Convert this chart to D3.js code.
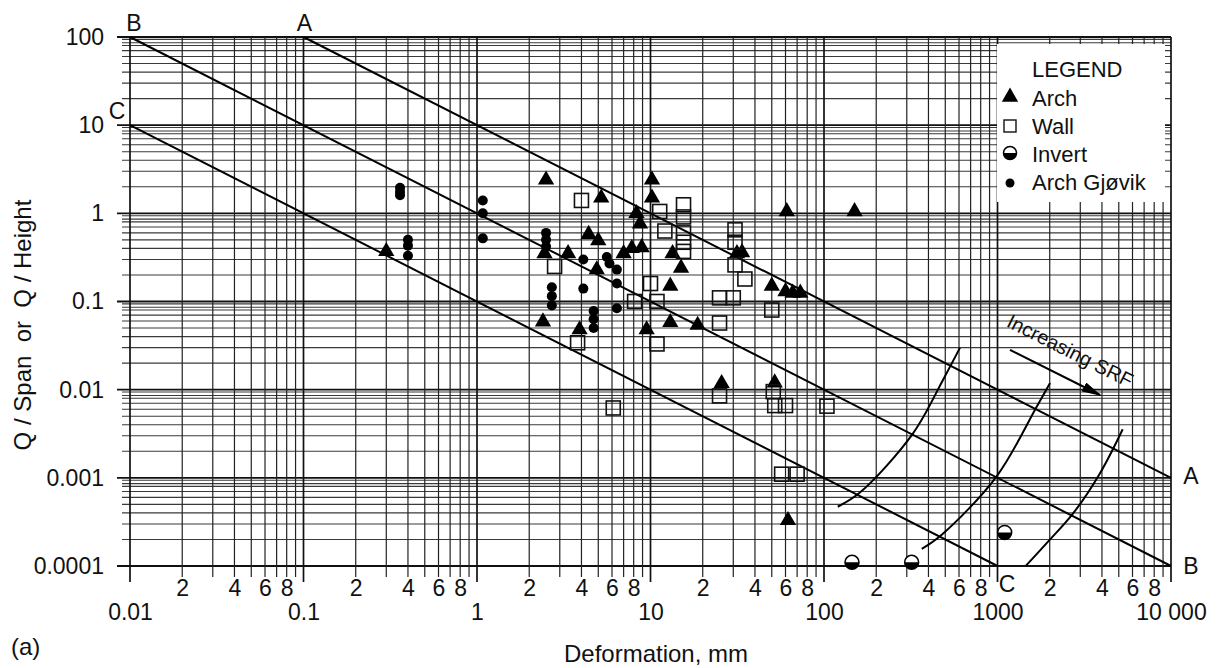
<!DOCTYPE html>
<html><head><meta charset="utf-8">
<script src="https://cdn.jsdelivr.net/npm/d3@7"></script>
<style>
body{margin:0;background:#fff}
svg{display:block;font-family:"Liberation Sans",Arial,Helvetica,sans-serif}
</style></head><body>
<svg id="c" width="1220" height="668"></svg>
<script>
// ---------- data ----------
const xDecades = [0.01, 0.1, 1, 10, 100, 1000, 10000];
const xDecadeLabels = ["0.01", "0.1", "1", "10", "100", "1000", "10 000"];
const yDecades = [0.0001, 0.001, 0.01, 0.1, 1, 10, 100];
const yDecadeLabels = ["0.0001", "0.001", "0.01", "0.1", "1", "10", "100"];
const xMinorLabelDigits = [2, 4, 6, 8];
const gridStepsX = [2, 3, 4, 5, 6, 7, 8, 9];
const gridStepsY = [2, 3, 4, 5, 6, 7, 8, 8.6, 9.4];

const archPoints = [
  [0.3,0.37],[2.5,2.4],[2.45,0.35],[3.35,0.35],[2.4,0.059],[3.9,0.048],[5.2,1.5],
  [10.2,2.4],[10.2,1.5],[8.3,1.0],[8.7,0.76],[4.4,0.58],[5.0,0.49],[4.9,0.23],
  [7.0,0.35],[7.8,0.4],[8.9,0.41],[13.4,0.35],[15,0.24],[13,0.15],[9.5,0.048],
  [13,0.058],[18.7,0.054],[31.5,0.35],[33.7,0.36],[61,1.05],[150,1.05],[50,0.15],
  [60,0.13],[66,0.125],[73,0.125],[25.7,0.0118],[52,0.012],[62,0.00033]
];
const wallPoints = [
  [4.0,1.4],[2.8,0.25],[3.8,0.034],[6.1,0.0062],[15.5,1.25],[15.5,0.91],[15.5,0.6],
  [15.5,0.47],[15.5,0.37],[11.3,1.05],[12.1,0.63],[30.7,0.65],[30.7,0.47],[30.7,0.26],
  [35,0.18],[10,0.16],[8.1,0.1],[10.9,0.1],[25,0.11],[30,0.11],[25,0.057],[10.9,0.033],
  [50,0.08],[25,0.0085],[51,0.0095],[52,0.0066],[60,0.0066],[104,0.0065],[57,0.0011],[70,0.0011]
];
const invertPoints = [[145,0.00011],[320,0.00011],[1100,0.00024]];
const gjovikPoints = [
  [0.36,1.95],[0.36,1.75],[0.36,1.6],[0.4,0.5],[0.4,0.43],[0.4,0.33],
  [1.08,1.4],[1.08,1.0],[1.08,0.52],[2.5,0.6],[2.5,0.5],[2.5,0.42],
  [2.7,0.145],[2.7,0.115],[2.7,0.09],[4.1,0.14],[4.7,0.078],[4.7,0.063],[4.7,0.05],
  [4.1,0.3],[5.6,0.32],[5.8,0.27],[6.4,0.23],[6.4,0.16],[6.4,0.084]
];

const lineA = [[0.1,100],[10000,0.001]];
const lineB = [[0.01,100],[10000,0.0001]];
const lineC = [[0.01,10],[1000,0.0001]];
const srfArc1 = [[120,4.7e-4],[161,6.8e-4],[326,3.2e-3],[485,0.0129],[608,0.030]];
const srfArc2 = [[366,1.56e-4],[477,2.26e-4],[989,1.04e-3],[1682,6.4e-3],[2009,0.0119]];
const srfArc3 = [[1459,1.01e-4],[1921,1.82e-4],[2735,3.98e-4],[3899,1.13e-3],[5268,3.56e-3]];
const srfArrow = [[1180,0.0283],[3900,0.0087]];

const legendItems = ["Arch", "Wall", "Invert", "Arch Gjøvik"];

// ---------- layout ----------
const svg = d3.select("#c");
const L = 130, R = 1171, T = 37, B = 566;
const x = d3.scaleLog().domain([0.01, 10000]).range([L, R]);
const y = d3.scaleLog().domain([0.0001, 100]).range([B, T]);
const FS = 23;

// grid
const grid = svg.append("g");
const xMinor = [], yMinor = [];
xDecades.slice(0, -1).forEach(d => gridStepsX.forEach(k => xMinor.push(d * k)));
yDecades.slice(0, -1).forEach(d => gridStepsY.forEach(k => yMinor.push(d * k)));

grid.selectAll(".hm").data(yMinor).join("line")
  .attr("x1", L - 8).attr("x2", R).attr("y1", d => y(d)).attr("y2", d => y(d))
  .attr("stroke", "#3a3a3a").attr("stroke-width", 1.1);
grid.selectAll(".hd").data(yDecades).join("line")
  .attr("x1", L - 13).attr("x2", R).attr("y1", d => y(d)).attr("y2", d => y(d))
  .attr("stroke", "#111").attr("stroke-width", 1.8);
grid.selectAll(".vm").data(xMinor).join("line")
  .attr("y1", T).attr("y2", B + 11).attr("x1", d => x(d)).attr("x2", d => x(d))
  .attr("stroke", "#222").attr("stroke-width", 1.2);
grid.selectAll(".vd").data(xDecades).join("line")
  .attr("y1", T).attr("y2", B + 16).attr("x1", d => x(d)).attr("x2", d => x(d))
  .attr("stroke", "#111").attr("stroke-width", 1.7);

// axes labels
const yAxis = d3.axisLeft(y).tickValues(yDecades)
  .tickFormat((d, i) => yDecadeLabels[i]).tickSize(0).tickPadding(26);
const gy = svg.append("g").attr("transform", `translate(${L},0)`).call(yAxis);
gy.select(".domain").remove();
gy.selectAll("text").attr("font-size", FS).attr("font-family", "Liberation Sans, Arial, sans-serif").attr("fill", "#111");

const xAxisDec = d3.axisBottom(x).tickValues(xDecades)
  .tickFormat((d, i) => xDecadeLabels[i]).tickSize(0).tickPadding(38);
const gxd = svg.append("g").attr("transform", `translate(0,${B})`).call(xAxisDec);
gxd.select(".domain").remove();
gxd.selectAll("text").attr("font-size", FS).attr("font-family", "Liberation Sans, Arial, sans-serif").attr("fill", "#111");

const xMinorLab = [];
xDecades.slice(0, -1).forEach(d => xMinorLabelDigits.forEach(k => xMinorLab.push(d * k)));
const xAxisMin = d3.axisBottom(x).tickValues(xMinorLab)
  .tickFormat(d => String(Math.round(d / Math.pow(10, Math.floor(Math.log10(d) + 1e-9)))))
  .tickSize(0).tickPadding(14);
const gxm = svg.append("g").attr("transform", `translate(0,${B})`).call(xAxisMin);
gxm.select(".domain").remove();
gxm.selectAll("text").attr("font-size", FS).attr("font-family", "Liberation Sans, Arial, sans-serif").attr("fill", "#111");

// axis titles
svg.append("text").attr("x", 656).attr("y", 662).attr("text-anchor", "middle")
  .attr("font-size", 24).attr("fill", "#111").text("Deformation, mm");
svg.append("text").attr("transform", "translate(31,325) rotate(-90)").attr("text-anchor", "middle")
  .attr("font-size", 24).attr("fill", "#111").style("white-space", "pre").text("Q / Span  or  Q / Height");
svg.append("text").attr("x", 11).attr("y", 655).attr("font-size", 24).attr("fill", "#111").text("(a)");

// diagonal lines
const ln = d3.line().x(d => x(d[0])).y(d => y(d[1]));
[lineA, lineB, lineC].forEach(l => svg.append("path").attr("d", ln(l))
  .attr("fill", "none").attr("stroke", "#000").attr("stroke-width", 2));

// SRF arcs
const curve = d3.line().x(d => x(d[0])).y(d => y(d[1])).curve(d3.curveCatmullRom);
[srfArc1, srfArc2, srfArc3].forEach(a => svg.append("path").attr("d", curve(a))
  .attr("fill", "none").attr("stroke", "#000").attr("stroke-width", 2));

// arrow
svg.append("defs").append("marker").attr("id", "ah").attr("viewBox", "0 0 10 10")
  .attr("refX", 9).attr("refY", 5).attr("markerWidth", 20).attr("markerHeight", 10)
  .attr("markerUnits", "userSpaceOnUse").attr("orient", "auto").attr("preserveAspectRatio", "none")
  .append("path").attr("d", "M0,0 L10,5 L0,10 Z").attr("fill", "#000");
svg.append("path").attr("d", ln(srfArrow)).attr("stroke", "#000").attr("stroke-width", 2)
  .attr("fill", "none").attr("marker-end", "url(#ah)");
const ax0 = x(srfArrow[0][0]), ay0 = y(srfArrow[0][1]), ax1 = x(srfArrow[1][0]), ay1 = y(srfArrow[1][1]);
const ang = Math.atan2(ay1 - ay0, ax1 - ax0) * 180 / Math.PI;
svg.append("text").attr("transform", `translate(1067,357) rotate(${ang})`).attr("text-anchor", "middle")
  .attr("font-size", 20).attr("fill", "#111").text("Increasing SRF");

// line letters
const letters = [
  ["B", x(0.01) + 4, 31], ["A", x(0.1) + 1, 31], ["C", 117, 119],
  ["A", 1191, 484], ["B", 1191, 574], ["C", 1007, 592]
];
svg.selectAll(".lt").data(letters).join("text").attr("x", d => d[1]).attr("y", d => d[2])
  .attr("text-anchor", "middle").attr("font-size", FS).attr("fill", "#111").text(d => d[0]);

// markers
const tri = d3.symbol().type(d3.symbolTriangle).size(115);
svg.append("g").selectAll("path").data(archPoints).join("path")
  .attr("transform", d => `translate(${x(d[0])},${y(d[1])})`).attr("d", tri()).attr("fill", "#000");
svg.append("g").selectAll("rect").data(wallPoints).join("rect")
  .attr("x", d => x(d[0]) - 7).attr("y", d => y(d[1]) - 7).attr("width", 14).attr("height", 14)
  .attr("fill", "none").attr("stroke", "#111").attr("stroke-width", 1.6);
svg.append("g").selectAll("circle").data(gjovikPoints).join("circle")
  .attr("cx", d => x(d[0])).attr("cy", d => y(d[1])).attr("r", 5).attr("fill", "#000");
const inv = svg.append("g").selectAll("g").data(invertPoints).join("g")
  .attr("transform", d => `translate(${x(d[0])},${y(d[1])})`);
inv.append("circle").attr("r", 7).attr("fill", "#fff").attr("stroke", "#000").attr("stroke-width", 1.5);
inv.append("path").attr("d", "M-7,0 A7,7 0 0,0 7,0 Z").attr("fill", "#000");

// legend
const lg = svg.append("g");
lg.append("rect").attr("x", 997).attr("y", 44).attr("width", 168).attr("height", 158).attr("fill", "#fff");
lg.append("text").attr("x", 1032).attr("y", 77).attr("font-size", 22).attr("fill", "#111").text("LEGEND");
lg.selectAll(".li").data(legendItems).join("text").attr("x", 1032).attr("y", (d, i) => 106 + i * 28)
  .attr("font-size", 22).attr("fill", "#111").text(d => d);
lg.append("path").attr("transform", "translate(1010,97)").attr("d", tri()).attr("fill", "#000");
lg.append("rect").attr("x", 1004).attr("y", 120).attr("width", 12).attr("height", 12)
  .attr("fill", "none").attr("stroke", "#111").attr("stroke-width", 1.4);
lg.append("circle").attr("cx", 1010).attr("cy", 153).attr("r", 6.5).attr("fill", "#fff").attr("stroke", "#000").attr("stroke-width", 1.5);
lg.append("path").attr("transform", "translate(1010,153)").attr("d", "M-6.5,0 A6.5,6.5 0 0,0 6.5,0 Z").attr("fill", "#000");
lg.append("circle").attr("cx", 1010).attr("cy", 183).attr("r", 4.5).attr("fill", "#000");
</script>
</body></html>
